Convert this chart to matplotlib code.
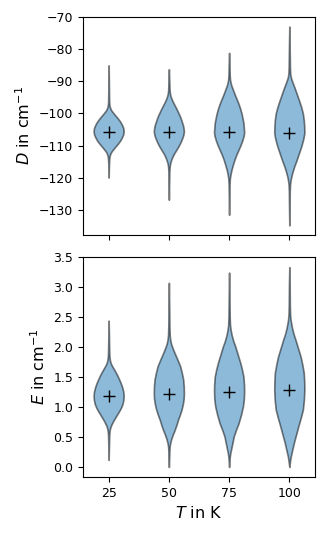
import matplotlib
matplotlib.use("Agg")
import matplotlib.pyplot as plt
import numpy as np

temps = [25, 50, 75, 100]

# D in cm^-1: mean per temperature and violin outline (value, relative density)
d_means = [-105.7, -105.8, -105.9, -106.0]
d_coords = [
    [-120.0, -116.0, -114.5, -113.5, -113.0, -112.5, -112.0, -111.5, -110.5, -109.5, -108.5, -107.5, -106.5,
     -105.5, -104.5, -103.5, -102.5, -101.5, -100.5, -99.5, -99.0, -98.5, -98.0, -97.5, -96.5, -94.0, -85.0],
    [-126.9, -121.0, -118.0, -116.7, -115.7, -114.7, -113.7, -112.7, -111.7, -110.7, -109.7, -108.7, -107.7,
     -106.7, -105.7, -104.7, -103.7, -102.7, -101.7, -100.7, -99.7, -98.7, -97.7, -96.7, -95.7, -94.7, -93.7,
     -92.7, -90.5, -86.2],
    [-131.6, -125.0, -122.0, -120.4, -119.4, -118.4, -117.4, -115.9, -114.4, -112.9, -111.4, -109.9, -108.4,
     -106.9, -105.9, -104.4, -102.9, -101.4, -99.9, -98.4, -96.9, -95.4, -93.9, -92.4, -91.4, -90.4, -89.4,
     -88.0, -85.0, -81.1],
    [-134.9, -128.0, -124.0, -122.0, -121.0, -120.0, -119.0, -118.0, -116.5, -115.0, -113.5, -112.0, -110.5,
     -109.0, -107.5, -106.0, -104.0, -102.0, -100.0, -98.0, -96.0, -94.0, -92.0, -90.5, -89.5, -88.5, -87.5,
     -85.5, -80.0, -72.9],
]
d_dens = [
    [0.0, 0.02, 0.035, 0.055, 0.08, 0.12, 0.17, 0.25, 0.42, 0.6, 0.76, 0.88, 0.97,
     1.0, 0.97, 0.88, 0.76, 0.6, 0.42, 0.25, 0.17, 0.12, 0.08, 0.055, 0.035, 0.025, 0.0],
    [0.0, 0.02, 0.03, 0.05, 0.08, 0.14, 0.22, 0.32, 0.45, 0.58, 0.7, 0.8, 0.89,
     0.96, 1.0, 0.98, 0.94, 0.87, 0.8, 0.72, 0.62, 0.52, 0.41, 0.3, 0.2, 0.12, 0.07,
     0.045, 0.03, 0.0],
    [0.0, 0.02, 0.03, 0.05, 0.08, 0.12, 0.17, 0.26, 0.36, 0.48, 0.62, 0.76, 0.88,
     0.97, 1.0, 0.98, 0.95, 0.89, 0.82, 0.73, 0.62, 0.49, 0.36, 0.24, 0.16, 0.1, 0.06,
     0.04, 0.025, 0.0],
    [0.0, 0.02, 0.03, 0.05, 0.08, 0.12, 0.17, 0.23, 0.33, 0.45, 0.56, 0.67, 0.78,
     0.87, 0.95, 1.0, 0.99, 0.96, 0.9, 0.79, 0.65, 0.5, 0.35, 0.23, 0.15, 0.09, 0.06,
     0.04, 0.025, 0.0],
]

# E in cm^-1
e_means = [1.18, 1.22, 1.255, 1.29]
e_coords = [
    [0.12, 0.35, 0.52, 0.6, 0.65, 0.7, 0.75, 0.8, 0.85, 0.9, 0.95, 1.0, 1.05, 1.12,
     1.19, 1.26, 1.33, 1.4, 1.47, 1.54, 1.6, 1.66, 1.71, 1.76, 1.82, 1.9, 2.1, 2.44],
    [0.0, 0.15, 0.28, 0.34, 0.4, 0.46, 0.54, 0.62, 0.7, 0.79, 0.87, 0.955, 1.05, 1.13,
     1.22, 1.34, 1.46, 1.57, 1.68, 1.79, 1.9, 1.98, 2.05, 2.12, 2.2, 2.35, 2.6, 3.07],
    [0.0, 0.08, 0.14, 0.18, 0.23, 0.29, 0.4, 0.51, 0.62, 0.73, 0.87, 1.01, 1.13,
     1.26, 1.38, 1.51, 1.62, 1.73, 1.87, 2.01, 2.1, 2.2, 2.29, 2.37, 2.5, 2.8, 3.24],
    [0.0, 0.06, 0.12, 0.18, 0.29, 0.4, 0.54, 0.68, 0.82, 0.955, 1.12,
     1.29, 1.43, 1.57, 1.7, 1.84, 1.98, 2.12, 2.22, 2.32, 2.4, 2.46, 2.55, 2.7, 3.0, 3.33],
]
e_dens = [
    [0.0, 0.02, 0.035, 0.06, 0.1, 0.17, 0.27, 0.38, 0.5, 0.62, 0.74, 0.84, 0.92, 0.98,
     1.0, 0.97, 0.9, 0.8, 0.68, 0.55, 0.42, 0.28, 0.17, 0.1, 0.06, 0.04, 0.025, 0.0],
    [0.0, 0.02, 0.035, 0.05, 0.09, 0.15, 0.26, 0.39, 0.5, 0.61, 0.73, 0.84, 0.93, 0.98,
     1.0, 0.99, 0.95, 0.86, 0.75, 0.57, 0.38, 0.25, 0.15, 0.09, 0.055, 0.035, 0.025, 0.0],
    [0.0, 0.02, 0.035, 0.05, 0.08, 0.13, 0.22, 0.31, 0.46, 0.63, 0.79, 0.92, 0.98,
     1.0, 0.99, 0.95, 0.86, 0.75, 0.58, 0.41, 0.28, 0.17, 0.1, 0.06, 0.04, 0.025, 0.0],
    [0.0, 0.03, 0.06, 0.1, 0.2, 0.3, 0.45, 0.6, 0.76, 0.9, 0.97,
     1.0, 0.99, 0.96, 0.87, 0.75, 0.58, 0.41, 0.28, 0.18, 0.12, 0.08, 0.05, 0.035, 0.025, 0.0],
]


def make_stats(coords, dens, means):
    stats = []
    for c, v, m in zip(coords, dens, means):
        stats.append({"coords": np.array(c), "vals": np.array(v), "mean": m,
                      "median": m, "min": min(c), "max": max(c)})
    return stats


def draw_violins(ax, coords, dens, means):
    parts = ax.violin(make_stats(coords, dens, means), positions=temps, widths=12.5,
                      showmeans=False, showextrema=False, showmedians=False)
    for body in parts["bodies"]:
        body.set_facecolor("C0")
        body.set_edgecolor("black")
        body.set_linewidth(1.2)
        body.set_alpha(0.5)
    ax.plot(temps, means, "+", color="black", markersize=8, markeredgewidth=1.0)


fig = plt.figure(figsize=(3.27, 5.36), dpi=100)
ax1 = fig.add_axes([0.254, 0.561, 0.709, 0.408])
ax2 = fig.add_axes([0.254, 0.110, 0.709, 0.4105], sharex=ax1)

draw_violins(ax1, d_coords, d_dens, d_means)
draw_violins(ax2, e_coords, e_dens, e_means)

ax2.set_ylim(-0.167, 3.5)
ax1.set_ylabel(r"$D$ in cm$^{-1}$", fontsize=11.5)
ax2.set_ylabel(r"$E$ in cm$^{-1}$", fontsize=11.5)
ax2.set_xlabel(r"$T$ in K", fontsize=11.5)
ax2.set_xticks(temps)
ax1.tick_params(labelbottom=False, labelsize=9)
ax2.tick_params(labelsize=9)

fig.savefig("out.png", dpi=100)
